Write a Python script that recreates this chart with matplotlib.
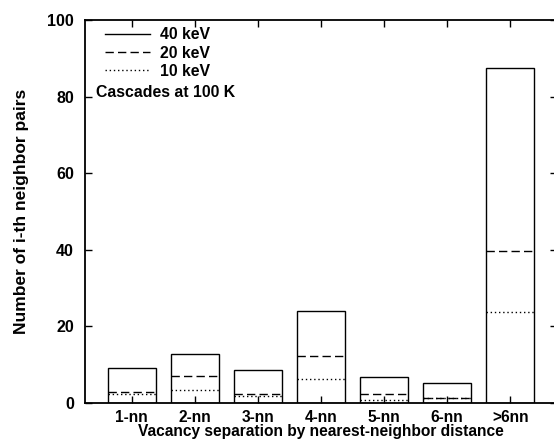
import numpy as np
import matplotlib.pyplot as plt
from matplotlib.lines import Line2D

categorias = ['1-nn', '2-nn', '3-nn', '4-nn', '5-nn', '6-nn', '>6nn']
pares_40kev = [9.1, 12.8, 8.6, 24.0, 6.7, 5.1, 87.5]
pares_20kev = [2.9, 7.0, 2.4, 12.3, 2.3, 1.4, 39.7]
pares_10kev = [2.3, 3.4, 1.7, 6.2, 0.8, 1.2, 23.8]

plt.rcParams['font.family'] = ['Liberation Sans', 'DejaVu Sans']

fig = plt.figure(figsize=(5.54, 4.41), dpi=100)
ax = fig.add_axes([0.1534, 0.0862, 0.852, 0.8684])

x = np.arange(1, len(categorias) + 1)
width = 0.76
ax.bar(x, pares_40kev, width, fill=False, edgecolor='black', linewidth=1.0)
ax.hlines(pares_20kev, x - width/2, x + width/2, colors='black', linestyles=(0, (6, 3)), linewidth=1.0)
ax.hlines(pares_10kev, x - width/2, x + width/2, colors='black', linestyles=(0, (1, 2)), linewidth=1.0)

ax.set_xlim(0.26, 7.74)
ax.set_ylim(0, 100)
ax.set_xticks(x)
ax.set_xticklabels(categorias, fontsize=11.2, fontweight='bold')
ax.set_yticks([0, 20, 40, 60, 80, 100])
ax.set_yticklabels(['0', '20', '40', '60', '80', '100'], fontsize=11.5, fontweight='bold')
ax.tick_params(axis='both', direction='in', length=5, width=1.0, top=True, right=True)
ax.tick_params(axis='y', pad=8)
ax.tick_params(axis='x', pad=5)
for s in ax.spines.values():
    s.set_linewidth(1.3)

ax.set_ylabel('Number of i-th neighbor pairs', fontsize=12.5, fontweight='bold', labelpad=13)
ax.set_xlabel('Vacancy separation by nearest-neighbor distance', fontsize=11.2, fontweight='bold', labelpad=-1)

handles = [Line2D([], [], color='black', lw=1.0, ls='-'),
           Line2D([], [], color='black', lw=1.0, ls=(0, (6, 3))),
           Line2D([], [], color='black', lw=1.0, ls=(0, (1, 2)))]
leg = ax.legend(handles, ['40 keV', '20 keV', '10 keV'], loc='upper left',
                bbox_to_anchor=(0.012, 1.018), frameon=False, handlelength=2.85,
                handletextpad=0.63, labelspacing=0.2,
                prop={'size': 11.4, 'weight': 'bold'})
ax.text(0.024, 0.81, 'Cascades at 100 K', transform=ax.transAxes,
        fontsize=11.4, fontweight='bold', va='center', ha='left')

fig.savefig('out.png', dpi=100)
